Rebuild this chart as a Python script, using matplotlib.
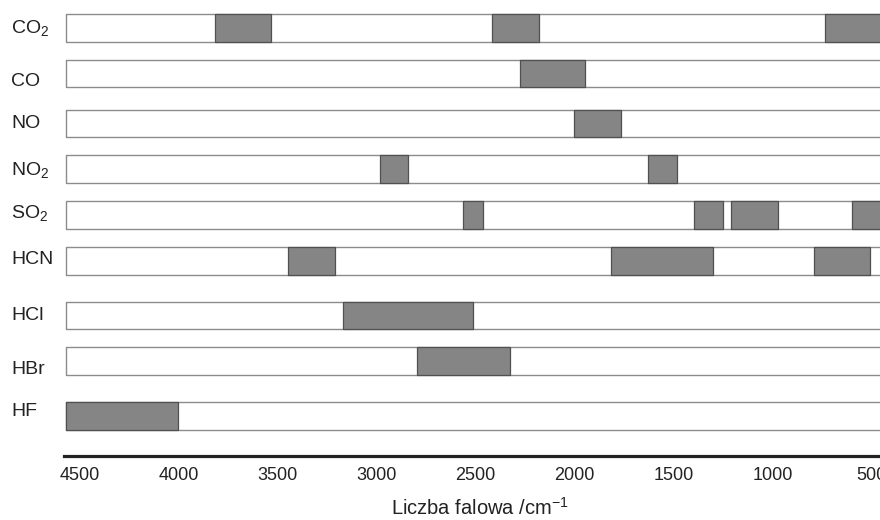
import matplotlib
matplotlib.use("Agg")
import matplotlib.pyplot as plt

plt.rcParams["font.family"] = ["Liberation Sans", "DejaVu Sans"]
plt.rcParams["mathtext.fontset"] = "custom"
plt.rcParams["mathtext.rm"] = "Liberation Sans"
plt.rcParams["mathtext.default"] = "regular"

# gases and their absorption bands (high, low) in cm^-1
gases = ["CO$_2$", "CO", "NO", "NO$_2$", "SO$_2$", "HCN", "HCl", "HBr", "HF"]
bands = [
    [(3816, 3533), (2417, 2179), (735, 300)],
    [(2275, 1947)],
    [(2003, 1765)],
    [(2982, 2841), (1629, 1482)],
    [(2563, 2462), (1396, 1250), (1210, 972), (598, 300)],
    [(3447, 3210), (1816, 1301), (790, 508)],
    [(3169, 2513)],
    [(2795, 2326)],
    [(4568, 4003)],
]
ticks = [4500, 4000, 3500, 3000, 2500, 2000, 1500, 1000, 500]

# layout (pixel rows of the original figure)
row_y = [28, 73.5, 123.5, 169, 215, 261, 315.5, 361, 416]
label_y = [28, 82, 123, 170, 213, 260, 316, 370, 412]
row_h = 27.5
x_left, x_right = 4578, 457

fig = plt.figure(figsize=(8.8, 5.2), dpi=100)
ax = fig.add_axes([64 / 880, 64 / 520, 816 / 880, 456 / 520])
ax.set_xlim(x_left, x_right)
ax.set_ylim(456, 0)

for i, y in enumerate(row_y):
    ax.broken_barh([(200, 4568 - 200)], (y - row_h / 2, row_h),
                   facecolor="white", edgecolor="#8c8c8c", linewidth=1.0)
    segs = [(lo, hi - lo) for hi, lo in bands[i]]
    ax.broken_barh(segs, (y - row_h / 2, row_h),
                   facecolor="#858585", edgecolor="#505050", linewidth=0.9)
    ax.text(11, 520 - label_y[i], gases[i], transform=None, fontsize=14,
            ha="left", va="center", color="#222222")

for s in ["top", "left", "right"]:
    ax.spines[s].set_visible(False)
ax.spines["bottom"].set_linewidth(2.3)
ax.spines["bottom"].set_color("#222222")
ax.set_yticks([])
ax.set_xticks(ticks)
ax.set_xticklabels([str(t) for t in ticks])
ax.tick_params(axis="x", length=0, pad=8, labelsize=13, labelcolor="#222222")
ax.set_xlabel("Liczba falowa /cm$^{-1}$", fontsize=14.5, color="#222222")
ax.xaxis.set_label_coords((480 - 64) / 816, -(497 - 456) / 456)

fig.savefig("out.png", dpi=100)
